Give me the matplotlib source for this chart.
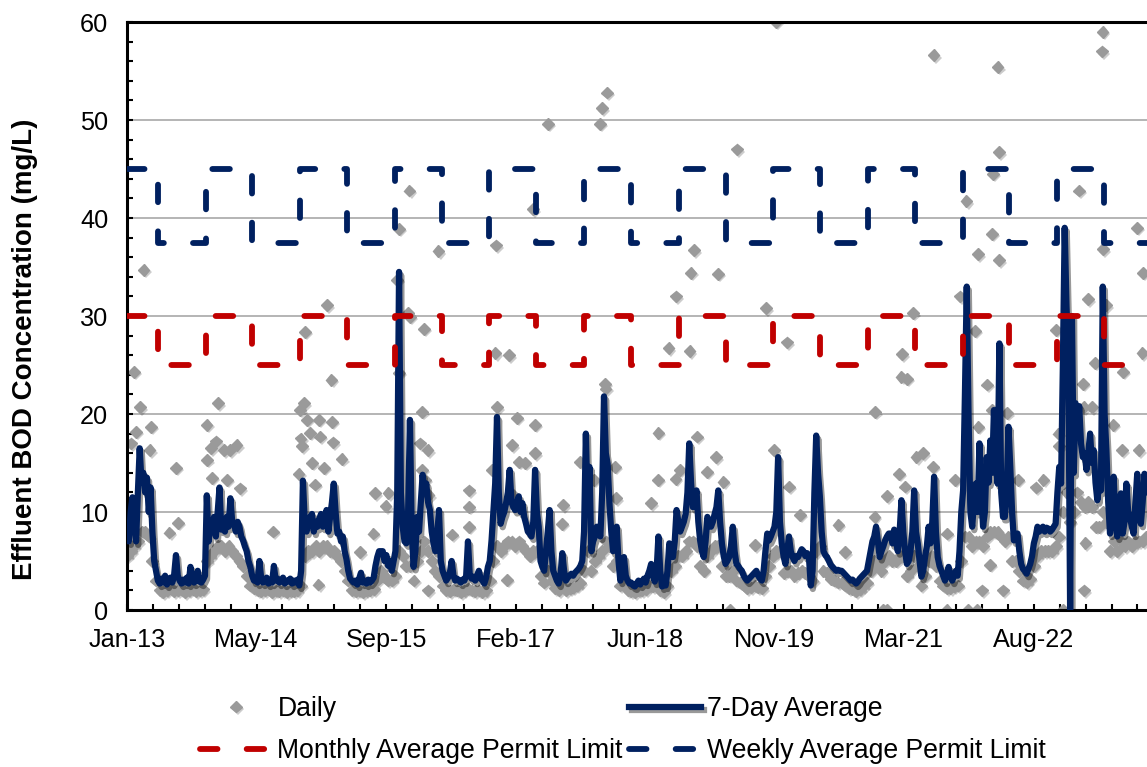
import pandas as pd
import matplotlib
matplotlib.use('Agg')
import matplotlib.pyplot as plt
import matplotlib.patheffects as pe

plt.rcParams['font.family'] = ['Liberation Sans', 'DejaVu Sans']

start = pd.Timestamp('2013-01-02')

# 7-day average effluent BOD (mg/L), one reading per week from the start date
avg_7day = [
    8, 7, 10, 11.5, 9, 7, 12, 16.5, 13, 14, 12, 13.5, 10, 12.5, 8, 5, 4, 3, 2.7, 3.2,
    2.8, 3.5, 2.6, 3, 3.3, 2.8, 3.6, 5.6, 3.5, 3, 2.7, 3.1, 2.8, 3.3, 2.7, 4.4, 3.2, 2.8, 3, 4,
    2.9, 2.8, 3.1, 3.5, 11.7, 7, 8.8, 8, 9.5, 7.5, 10, 12.5, 8.2, 9, 8, 9.5, 8.5, 11.4, 9, 8.8,
    8, 9, 8.5, 7.5, 7.1, 6.5, 6, 5, 4.4, 3.5, 3, 3.2, 2.8, 5, 3.2, 2.8, 3, 3.3, 2.7, 3,
    2.8, 4.5, 3, 3.2, 2.8, 3, 3.3, 2.7, 3, 2.9, 3.2, 2.7, 3, 2.8, 3.1, 2.5, 4, 13.2, 9, 8,
    8.8, 9.5, 9.8, 8, 9, 8.5, 9.3, 9.8, 8.5, 9, 10.2, 8, 9.5, 11, 12.9, 10, 7.8, 8, 7, 7.5,
    6, 5.2, 4, 3.2, 3, 2.8, 3, 2.6, 3.2, 3.8, 2.8, 3, 2.7, 3.1, 2.8, 3, 3.3, 4.5, 5.4, 6,
    6, 6, 5, 5.6, 4.5, 5, 4, 5, 6, 12, 34.5, 12, 8.5, 7, 6.8, 10, 19.4, 8, 4.4, 6,
    9.5, 8, 11, 13.8, 12, 12.9, 11, 10.2, 8, 6.8, 6, 7.5, 10.2, 5, 4, 3.5, 3, 3.3, 3.8, 5,
    3.5, 3, 3.2, 3, 2.8, 3.1, 3, 3.5, 7, 3.5, 3.2, 3.4, 3, 3.5, 4, 3.2, 3, 2.7, 3.3, 4.4,
    5, 7.1, 10, 12.9, 19.7, 12, 8.8, 9.5, 10, 10.9, 12, 14.3, 11, 10.5, 10.2, 11, 11.6, 10, 10.9, 9.5,
    8.8, 8, 7.8, 7.5, 9, 14.3, 10, 8.5, 5, 4.4, 4, 6, 8, 10.2, 6, 4, 3.5, 3, 2.7, 3.5,
    5.8, 4, 3, 3.3, 3.5, 3.7, 3.5, 3.8, 4, 4.2, 4.5, 5, 8, 18, 10, 14.6, 6, 7, 7.5, 8.5,
    8, 7.5, 12, 21.8, 16, 14.9, 10.9, 8, 6, 7, 8.5, 5, 3, 4, 5.4, 3.5, 3, 2.7, 2.8, 2.5,
    2.4, 2.7, 3, 2.6, 2.9, 3.2, 2.8, 3.5, 4, 4.7, 3.5, 2.9, 4, 7.5, 4, 2.4, 2.6, 2.5, 4, 6.8,
    6, 5.4, 7, 10.2, 9, 8, 8.5, 9, 9.8, 12, 17, 13, 10.5, 11, 12.2, 9, 7.1, 6, 5.4, 7,
    9.5, 9, 8.5, 9, 9.8, 10.5, 12.2, 9, 6.8, 5.5, 4.7, 5, 5.4, 6.5, 8.5, 6, 4.7, 4.5, 4.2, 4,
    3.5, 3.2, 3, 3.2, 3.4, 3.6, 3.8, 4, 3.5, 3.2, 3, 4, 6, 7.8, 7.1, 7.5, 8, 8.5, 10, 15.6,
    9, 6.8, 5.5, 4.7, 6, 7.5, 6, 5.4, 5, 5.5, 5.4, 5.8, 6.2, 6, 5.5, 5.8, 5.4, 2.5, 4, 12,
    17.8, 14, 11.6, 8, 6, 5.6, 5.4, 5, 4.6, 4.4, 4.2, 4, 4.1, 4, 4, 3.8, 3.6, 3.4, 3.2, 3,
    3.1, 2.9, 2.7, 2.9, 3.2, 3.4, 3.6, 3.8, 4, 5, 6, 7, 7.5, 8.5, 7, 5.4, 6, 6.5, 7.1, 7.5,
    7.8, 7.8, 6.8, 8.2, 7, 6, 8, 11.2, 8, 6, 4.7, 5, 6, 8, 12.2, 8, 6.8, 5, 3.4, 4,
    5.4, 6.5, 8.5, 6.8, 9, 13.6, 8, 5.4, 4.5, 4, 3.5, 3, 3.5, 4.4, 3.5, 3, 3.5, 4, 3.5, 6,
    10, 12.2, 22, 33, 19.7, 10, 8.5, 11, 12.9, 10, 17, 12, 8.5, 10, 15.6, 13, 17.3, 14, 20.4, 15,
    12.9, 27.2, 12, 9.5, 9.5, 12, 18.7, 14.6, 10, 7.1, 7.5, 7.8, 6, 4.7, 4.2, 4, 3.7, 4.2, 4.7, 5.5,
    6.8, 7.5, 8.5, 8, 8.3, 8.5, 8, 8.4, 8.3, 8, 8.2, 8.5, 8.8, 12, 14.6, 12.9, 25, 39, 31, 26,
    0, 30, 14, 21.1, 18, 20.8, 17, 15.6, 16, 14.3, 16, 18, 15, 16.3, 13, 11.2, 12.8, 12.2, 33, 20,
    16.3, 11, 7.8, 10, 13.6, 9, 7.5, 10, 11.9, 7.8, 9, 12.9, 10, 9.5, 8.5, 7.8, 11, 13.9, 10, 8.8,
    11, 13.9, 12, 12.5,
]

# bulk of the daily results (lower edge of the cloud), one per fortnight
daily_band = [
    5.5, 6, 6.5, 7, 8, 8, 7.5, 5, 3, 2, 1.8, 2, 2.2, 1.9, 2, 2.1, 1.8, 2, 2.2, 1.9,
    2, 2.1, 5, 5.5, 6, 6.5, 6.5, 6, 6.5, 6, 5.5, 5, 4.5, 3.5, 2.5, 2.2, 2, 1.9, 2, 2.1,
    1.8, 2, 1.9, 2, 1.8, 2, 1.9, 2, 2.5, 5.5, 6, 6, 6.5, 6, 6.5, 6.5, 6, 6, 5.5, 5,
    4, 3, 2, 1.9, 2, 1.8, 2, 2, 2.1, 3, 4, 3.5, 3, 3, 3.5, 6, 5.5, 4.5, 4.5, 3,
    5, 6, 7, 6, 5, 4, 3.5, 2.5, 2, 1.9, 2.1, 2, 1.8, 2, 2.2, 2, 1.9, 2, 1.8, 2,
    3, 5, 6.5, 6, 6.5, 7, 7, 6.5, 7, 6.5, 6, 5.5, 6, 6, 3.5, 2.8, 4, 3, 2.2, 2,
    2.5, 2, 2.2, 2.3, 2.5, 2.8, 4, 6, 4, 5, 5.5, 6, 7, 6.5, 4.5, 5, 2.5, 2.8, 2, 1.9,
    1.8, 2, 2, 2.1, 2.5, 2.4, 2.5, 2, 1.8, 2.5, 4, 4.5, 5.5, 5.5, 6, 7, 7, 6.5, 4.5, 4,
    5.5, 6, 6.5, 6.5, 4.5, 3.5, 3.5, 4, 3, 2.8, 2.5, 2.2, 2.3, 2.5, 2.3, 2.2, 3.5, 4.5, 5.5, 6,
    6, 3.8, 4, 4, 3.5, 3.8, 4, 3.8, 3.5, 3, 6, 6.5, 4, 3.8, 3.2, 3, 2.8, 2.8, 2.5, 2.2,
    2.1, 1.9, 2.1, 2.4, 2.8, 4, 5, 4.5, 4, 5, 5.5, 5, 5, 5.5, 5.5, 3.5, 4, 5.5, 4.5, 2.5,
    3.5, 5, 5.5, 4.5, 3, 2.5, 2.2, 2.2, 2.4, 2.5, 5, 7.5, 7.5, 6.5, 7, 7, 6.5, 7.5, 8, 8,
    8, 7.5, 7, 7.5, 5, 5, 4, 3, 2.8, 3.2, 4.5, 5.5, 6, 6, 6, 6, 6.5, 7.5, 10, 12,
    9, 10, 12, 11, 10.5, 11, 10.5, 8.5, 8.5, 10, 9, 6, 7, 6, 7, 6.5, 7, 6.5, 7, 7,
    7, 7.5,
]

# daily results that stand clear of the cloud
daily_dates = [
    '2013-01-16', '2013-01-29', '2013-02-06', '2013-02-21', '2013-03-07', '2013-03-30', '2013-04-06',
    '2013-06-15', '2013-07-09', '2013-07-18', '2013-11-05', '2013-11-07', '2013-11-21', '2013-11-26',
    '2013-12-13', '2013-12-20', '2014-01-10', '2014-01-23', '2014-02-04', '2014-03-01', '2014-03-14',
    '2014-07-21', '2014-10-26', '2014-11-02', '2014-11-03', '2014-11-08', '2014-11-15', '2014-11-21',
    '2014-11-27', '2014-12-10', '2014-12-16', '2014-12-29', '2015-01-11', '2015-01-12', '2015-01-18',
    '2015-01-31', '2015-02-13', '2015-03-02', '2015-03-04', '2015-03-09', '2015-04-10', '2015-06-20',
    '2015-08-11', '2015-08-17', '2015-09-27', '2015-10-08', '2015-11-10', '2015-11-18', '2015-11-19',
    '2015-12-24', '2015-12-28', '2015-12-30', '2016-02-08', '2016-02-14', '2016-02-15', '2016-02-21',
    '2016-02-25', '2016-03-07', '2016-03-09', '2016-03-11', '2016-04-18', '2016-06-09', '2016-08-13',
    '2016-08-14', '2016-08-15', '2016-11-11', '2016-11-24', '2016-11-26', '2016-11-29', '2017-01-07',
    '2017-01-14', '2017-01-26', '2017-01-30', '2017-02-15', '2017-02-22', '2017-03-17', '2017-04-18',
    '2017-04-25', '2017-04-26', '2017-06-14', '2017-08-08', '2017-08-13', '2017-10-16', '2017-12-10',
    '2018-01-02', '2018-01-09', '2018-01-21', '2018-01-23', '2018-01-28', '2018-02-28', '2018-03-04',
    '2018-07-16', '2018-08-12', '2018-08-15', '2018-09-23', '2018-10-20', '2018-10-22', '2018-11-07',
    '2018-12-13', '2018-12-17', '2018-12-29', '2019-01-11', '2019-02-19', '2019-03-24', '2019-04-01',
    '2019-04-23', '2019-05-17', '2019-06-13', '2019-08-23', '2019-10-04', '2019-11-03', '2019-11-12',
    '2019-12-24', '2019-12-31', '2020-02-13', '2020-07-10', '2020-08-05', '2020-11-26', '2020-11-29',
    '2020-12-30', '2021-01-12', '2021-01-13', '2021-02-28', '2021-03-10', '2021-03-12', '2021-03-23',
    '2021-03-31', '2021-04-23', '2021-05-07', '2021-06-02', '2021-07-11', '2021-07-12', '2021-08-31',
    '2021-09-01', '2021-10-03', '2021-10-21', '2021-11-16', '2021-11-23', '2021-12-18', '2021-12-26',
    '2021-12-31', '2022-01-01', '2022-01-15', '2022-02-02', '2022-02-16', '2022-02-22', '2022-02-23',
    '2022-02-25', '2022-03-16', '2022-03-20', '2022-03-23', '2022-04-07', '2022-04-20', '2022-06-04',
    '2022-08-10', '2022-09-09', '2022-10-27', '2022-11-06', '2022-11-07', '2022-11-24', '2023-01-25',
    '2023-02-10', '2023-02-11', '2023-02-12', '2023-02-18', '2023-02-28', '2023-03-14', '2023-03-26',
    '2023-04-22', '2023-04-25', '2023-04-26', '2023-05-10', '2023-06-06', '2023-07-08', '2023-07-13',
    '2023-09-05', '2023-09-11', '2023-09-26', '2023-09-28',
]
daily_vals = [
    17.0, 24.3, 18.2, 20.7, 34.7, 16.3, 18.7,
    7.9, 14.5, 8.9, 18.9, 15.3, 16.5, 13.5,
    17.2, 21.1, 16.3, 13.3, 16.3, 16.8, 12.4,
    8.0, 13.9, 20.4, 17.5, 16.7, 21.1, 28.4,
    19.4, 18.1, 15.0, 12.8, 2.6, 19.4, 17.7,
    14.5, 31.1, 23.5, 19.2, 17.1, 15.4, 5.9,
    7.8, 11.9, 10.6, 11.9, 33.7, 38.9, 24.2,
    30.3, 42.8, 29.9, 17.0, 20.2, 14.3, 28.7,
    13.3, 16.3, 2.0, 11.7, 36.6, 7.7, 12.2,
    10.5, 8.5, 14.3, 26.2, 37.2, 20.7, 3.1,
    26.0, 16.8, 11.7, 19.6, 15.1, 15.0, 40.9,
    18.9, 16.0, 49.6, 8.8, 10.7, 15.1, 13.3,
    49.6, 51.2, 23.1, 22.6, 52.8, 14.6, 11.4,
    10.9, 13.3, 18.1, 26.7, 13.4, 32.0, 14.3,
    26.4, 34.4, 36.7, 17.7, 14.1, 15.6, 34.3,
    13.1, 0.0, 47.0, 6.6, 30.8, 16.3, 60.0,
    27.3, 12.6, 9.7, 8.7, 5.9, 9.5, 20.2,
    0.0, 0.0, 11.6, 13.9, 23.8, 26.1, 12.6,
    23.6, 30.3, 15.6, 16.0, 14.6, 56.6, 0.0,
    7.8, 13.3, 32.0, 41.7, 0.0, 28.5, 0.0,
    36.3, 18.7, 2.0, 23.0, 4.6, 20.4, 38.4,
    44.5, 55.4, 46.7, 35.7, 2.0, 20.1, 13.3,
    12.5, 13.3, 28.6, 18.0, 16.7, 0.0, 42.8,
    23.1, 20.7, 2.0, 6.8, 31.7, 20.7, 25.2,
    57.0, 59.0, 36.8, 31.1, 18.9, 16.3, 24.3,
    39.0, 16.3, 26.2, 34.4,
]

# seasonal permit limits: winter (Nov-Apr) and summer (May-Oct)
limit_dates = [
    '2013-01-02', '2013-05-01', '2013-11-01', '2014-05-01', '2014-11-01', '2015-05-01',
    '2015-11-01', '2016-05-01', '2016-11-01', '2017-05-01', '2017-11-01', '2018-05-01',
    '2018-11-01', '2019-05-01', '2019-11-01', '2020-05-01', '2020-11-01', '2021-05-01',
    '2021-11-01', '2022-05-01', '2022-11-01', '2023-05-01', '2023-11-01',
]
monthly_limit = [30, 25, 30, 25, 30, 25, 30, 25, 30, 25, 30, 25,
                 30, 25, 30, 25, 30, 25, 30, 25, 30, 25, 30]
weekly_limit = [45, 37.5, 45, 37.5, 45, 37.5, 45, 37.5, 45, 37.5, 45, 37.5,
                45, 37.5, 45, 37.5, 45, 37.5, 45, 37.5, 45, 37.5, 45]

week_dates = pd.date_range(start, periods=len(avg_7day), freq='7D')
band_dates = pd.date_range(start, periods=len(daily_band), freq='14D')
all_daily_dates = list(band_dates) + list(pd.to_datetime(daily_dates))
all_daily_vals = list(daily_band) + list(daily_vals)

navy = '#002060'
red = '#C00000'
grey = '#9A9A9A'

fig = plt.figure(figsize=(11.47, 7.67), dpi=100)
ax = fig.add_axes([127 / 1147, 157 / 767, 1036.4 / 1147, 588 / 767])

mark_shadow = [pe.SimplePatchShadow(offset=(1.5, -1.8), shadow_rgbFace='black', alpha=0.2), pe.Normal()]
line_shadow = [pe.SimpleLineShadow(offset=(1.5, -2.5), shadow_color='black', alpha=0.4), pe.Normal()]

h_daily, = ax.plot(all_daily_dates, all_daily_vals, linestyle='none', marker='D', ms=6.0,
                   color=grey, mec=grey, label='Daily', zorder=2, path_effects=mark_shadow)
h_avg, = ax.plot(week_dates, avg_7day, color=navy, lw=4.5, solid_joinstyle='round',
                 label='7-Day Average', zorder=3, path_effects=line_shadow)
h_month, = ax.plot(pd.to_datetime(limit_dates), monthly_limit, drawstyle='steps-post', color=red,
                   lw=4.2, dashes=(3.0, 5.0), dash_capstyle='round',
                   label='Monthly Average Permit Limit', zorder=4)
h_week, = ax.plot(pd.to_datetime(limit_dates), weekly_limit, drawstyle='steps-post', color=navy,
                  lw=4.2, dashes=(3.0, 5.0), dash_capstyle='round',
                  label='Weekly Average Permit Limit', zorder=5)

ax.set_xlim(start, start + pd.Timedelta(days=4000))
ax.set_ylim(0, 60)

major = [start + pd.Timedelta(days=500 * k) for k in range(8)]
ax.set_xticks(major)
ax.set_xticklabels([d.strftime('%b-%y') for d in major])
ax.set_xticks([start + pd.Timedelta(days=d) for d in range(0, 4000, 100)], minor=True)
ax.set_yticks(range(0, 61, 10))
ax.set_yticks(range(0, 61, 2), minor=True)

ax.tick_params(which='both', direction='in', length=4.3, width=1.5, colors='black')
ax.tick_params(axis='y', which='major', labelsize=18.2, pad=13.5)
ax.tick_params(axis='x', which='major', labelsize=18.2, pad=13)

ax.grid(axis='y', which='major', color='#A0A0A0', lw=1.1)
ax.set_axisbelow(True)
for side in ['left', 'bottom', 'top', 'right']:
    ax.spines[side].set_linewidth(2.2)
    ax.spines[side].set_color('black')

ax.set_ylabel('Effluent BOD Concentration (mg/L)', fontsize=20, fontweight='bold')
ax.yaxis.set_label_coords(-0.086, 0.444)

# two rows: Daily / 7-Day Average, then the two permit limits
fig.legend([h_daily, h_month, h_avg, h_week],
           [h.get_label() for h in (h_daily, h_month, h_avg, h_week)],
           loc='center', bbox_to_anchor=(0.543, 0.048), ncol=2, frameon=False,
           fontsize=19.2, numpoints=1, handlelength=2.7, handletextpad=0.2,
           columnspacing=0.25, labelspacing=0.62, borderpad=0)

fig.savefig('out.png', dpi=100)
